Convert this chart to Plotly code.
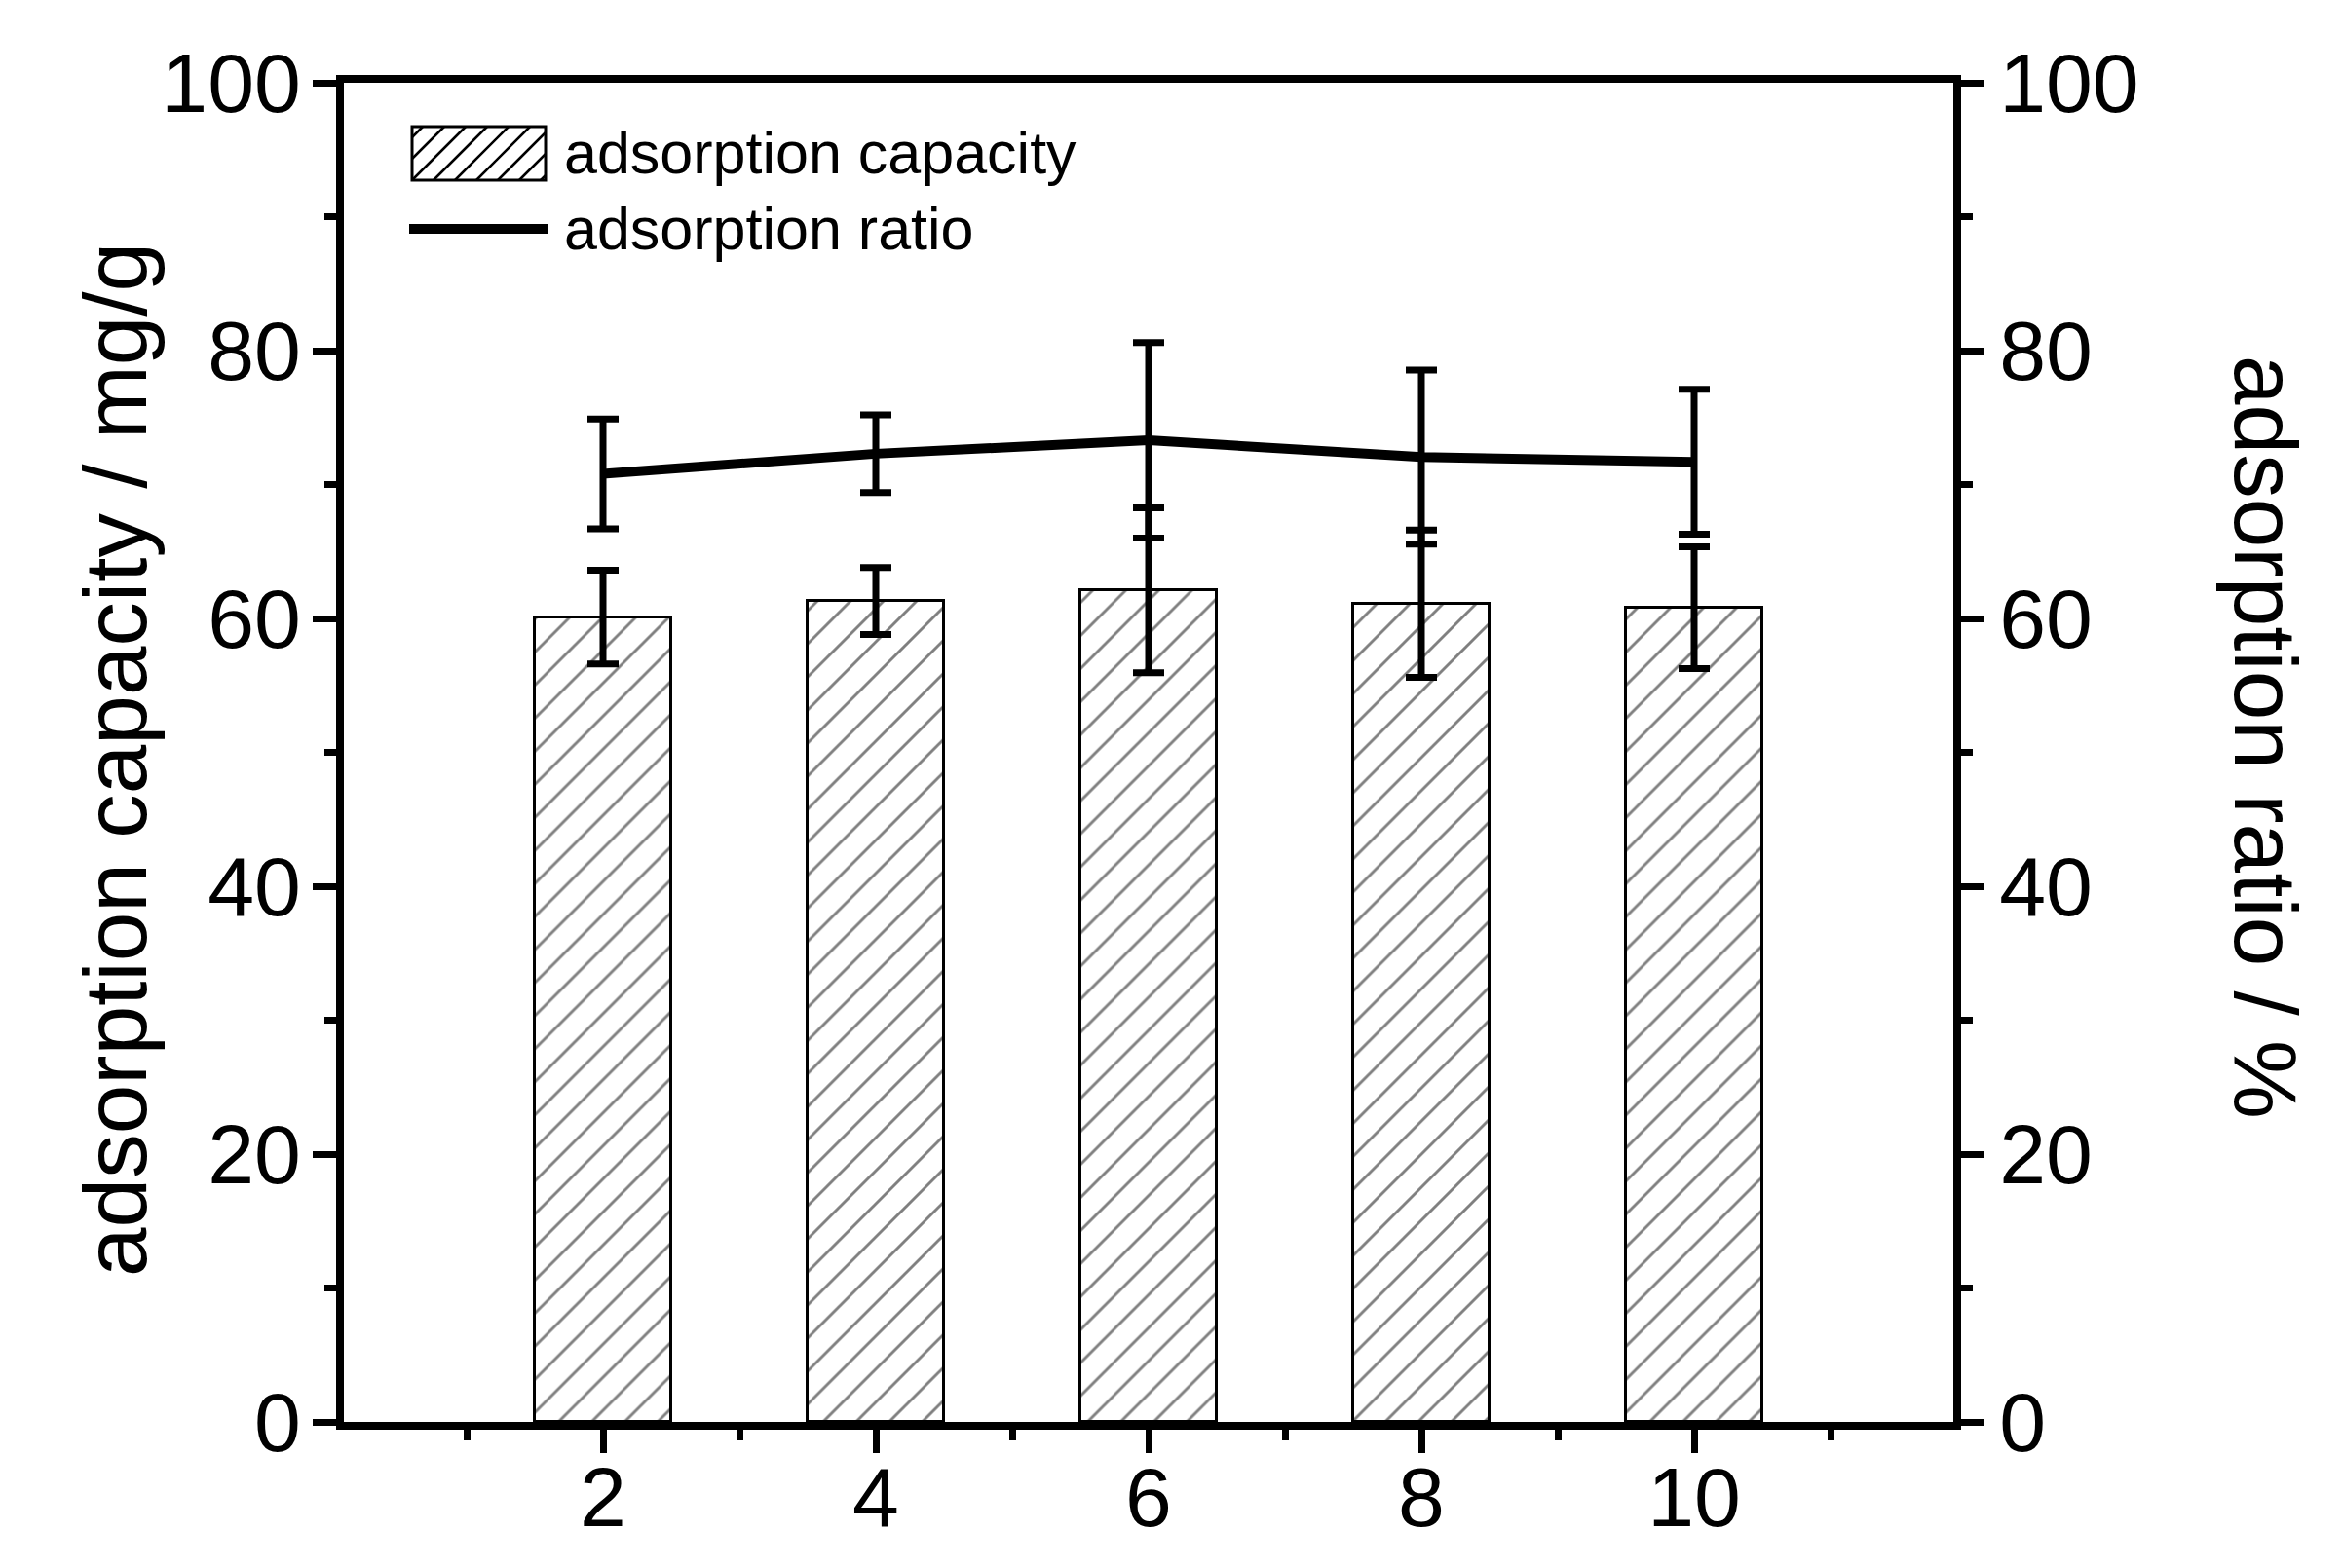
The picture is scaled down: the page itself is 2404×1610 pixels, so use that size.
import plotly.graph_objects as go

# ---------------- data ----------------
dose = [2, 4, 6, 8, 10]
capacity = [60.1, 61.3, 62.1, 61.1, 60.8]          # mg/g (bars, left axis)
capacity_err = [3.5, 2.5, 6.15, 5.5, 4.55]
ratio = [70.8, 72.3, 73.3, 72.05, 71.7]            # % (line, right axis)
ratio_err = [4.1, 2.9, 7.3, 6.5, 5.4]

legend_labels = ["adsorption capacity", "adsorption ratio"]
y_left_title = "adsorption capacity / mg/g"
y_right_title = "adsorption ratio / %"

# ---------------- geometry ----------------
W, H = 2404, 1610
L, R, T, B = 353, 2005, 85, 1460   # plot area in pixels
FONT = "Liberation Sans, Arial, sans-serif"


def px(x):
    return (x - L) / (R - L)


def py(y):
    return (B - y) / (B - T)


fig = go.Figure()

fig.add_trace(go.Bar(
    x=dose, y=capacity, width=1.0, name=legend_labels[0], showlegend=False,
    marker=dict(color="white", line=dict(color="black", width=3),
                pattern=dict(shape="/", fgcolor="black", bgcolor="white",
                             size=24, solidity=0.12)),
    error_y=dict(type="data", array=capacity_err, visible=True,
                 color="black", thickness=7, width=16),
))

fig.add_trace(go.Scatter(
    x=dose, y=ratio, yaxis="y2", mode="lines", name=legend_labels[1],
    showlegend=False, line=dict(color="black", width=10),
    error_y=dict(type="data", array=ratio_err, visible=True,
                 color="black", thickness=7, width=16),
))

tickfont = dict(family=FONT, size=86, color="black")
axis_common = dict(showline=True, linecolor="black", linewidth=8,
                   ticks="outside", ticklen=24, tickwidth=7, tickcolor="black",
                   showgrid=False, zeroline=False, tickfont=tickfont,
                   automargin=False)

fig.update_layout(
    width=W, height=H,
    margin=dict(l=L, r=W - R, t=T, b=H - B, pad=0, autoexpand=False),
    paper_bgcolor="white", plot_bgcolor="white",
    bargap=0,
    xaxis=dict(range=[0.1, 11.9], tick0=0, dtick=2, mirror=True,
               ticklabelstandoff=-28,
               minor=dict(tick0=0, dtick=1, ticks="outside", ticklen=11,
                          tickwidth=7, tickcolor="black"),
               **axis_common),
    yaxis=dict(range=[0, 100], tick0=0, dtick=20, ticklabelstandoff=-5,
               minor=dict(tick0=0, dtick=10, ticks="outside", ticklen=12,
                          tickwidth=7, tickcolor="black"),
               **axis_common),
    yaxis2=dict(range=[0, 100], tick0=0, dtick=20, overlaying="y", side="right",
                ticklabelstandoff=-2,
                minor=dict(tick0=0, dtick=10, ticks="outside", ticklen=12,
                           tickwidth=7, tickcolor="black"),
                **axis_common),
)

# ---------------- manual legend ----------------
x0, x1, y0, y1 = 423, 560, 130, 185
step = 22
segs = []
c = x0 + y0 + step / 2
while c < x1 + y1:
    xa = max(x0, c - y1)
    xb = min(x1, c - y0)
    if xb > xa:
        segs.append(f"M{px(xa)},{py(c - xa)} L{px(xb)},{py(c - xb)}")
    c += step
fig.add_shape(type="path", xref="paper", yref="paper", path=" ".join(segs),
              line=dict(color="black", width=2.5))
fig.add_shape(type="rect", xref="paper", yref="paper",
              x0=px(x0), x1=px(x1), y0=py(y1), y1=py(y0),
              line=dict(color="black", width=3), fillcolor="rgba(0,0,0,0)")
fig.add_shape(type="line", xref="paper", yref="paper",
              x0=px(420), x1=px(563), y0=py(235), y1=py(235),
              line=dict(color="black", width=10))

for label, yy in zip(legend_labels, [157, 235]):
    fig.add_annotation(text=label, xref="paper", yref="paper", x=px(577), y=py(yy),
                       xanchor="left", yanchor="middle", showarrow=False,
                       font=dict(family=FONT, size=61, color="black"))

# axis titles
fig.add_annotation(text=y_left_title, xref="paper", yref="paper",
                   x=px(119), y=py(780), xanchor="center", yanchor="middle",
                   textangle=-90, showarrow=False,
                   font=dict(family=FONT, size=91, color="black"))
fig.add_annotation(text=y_right_title, xref="paper", yref="paper",
                   x=px(2325), y=py(757), xanchor="center", yanchor="middle",
                   textangle=90, showarrow=False,
                   font=dict(family=FONT, size=91, color="black"))

fig.write_html("out.html")
